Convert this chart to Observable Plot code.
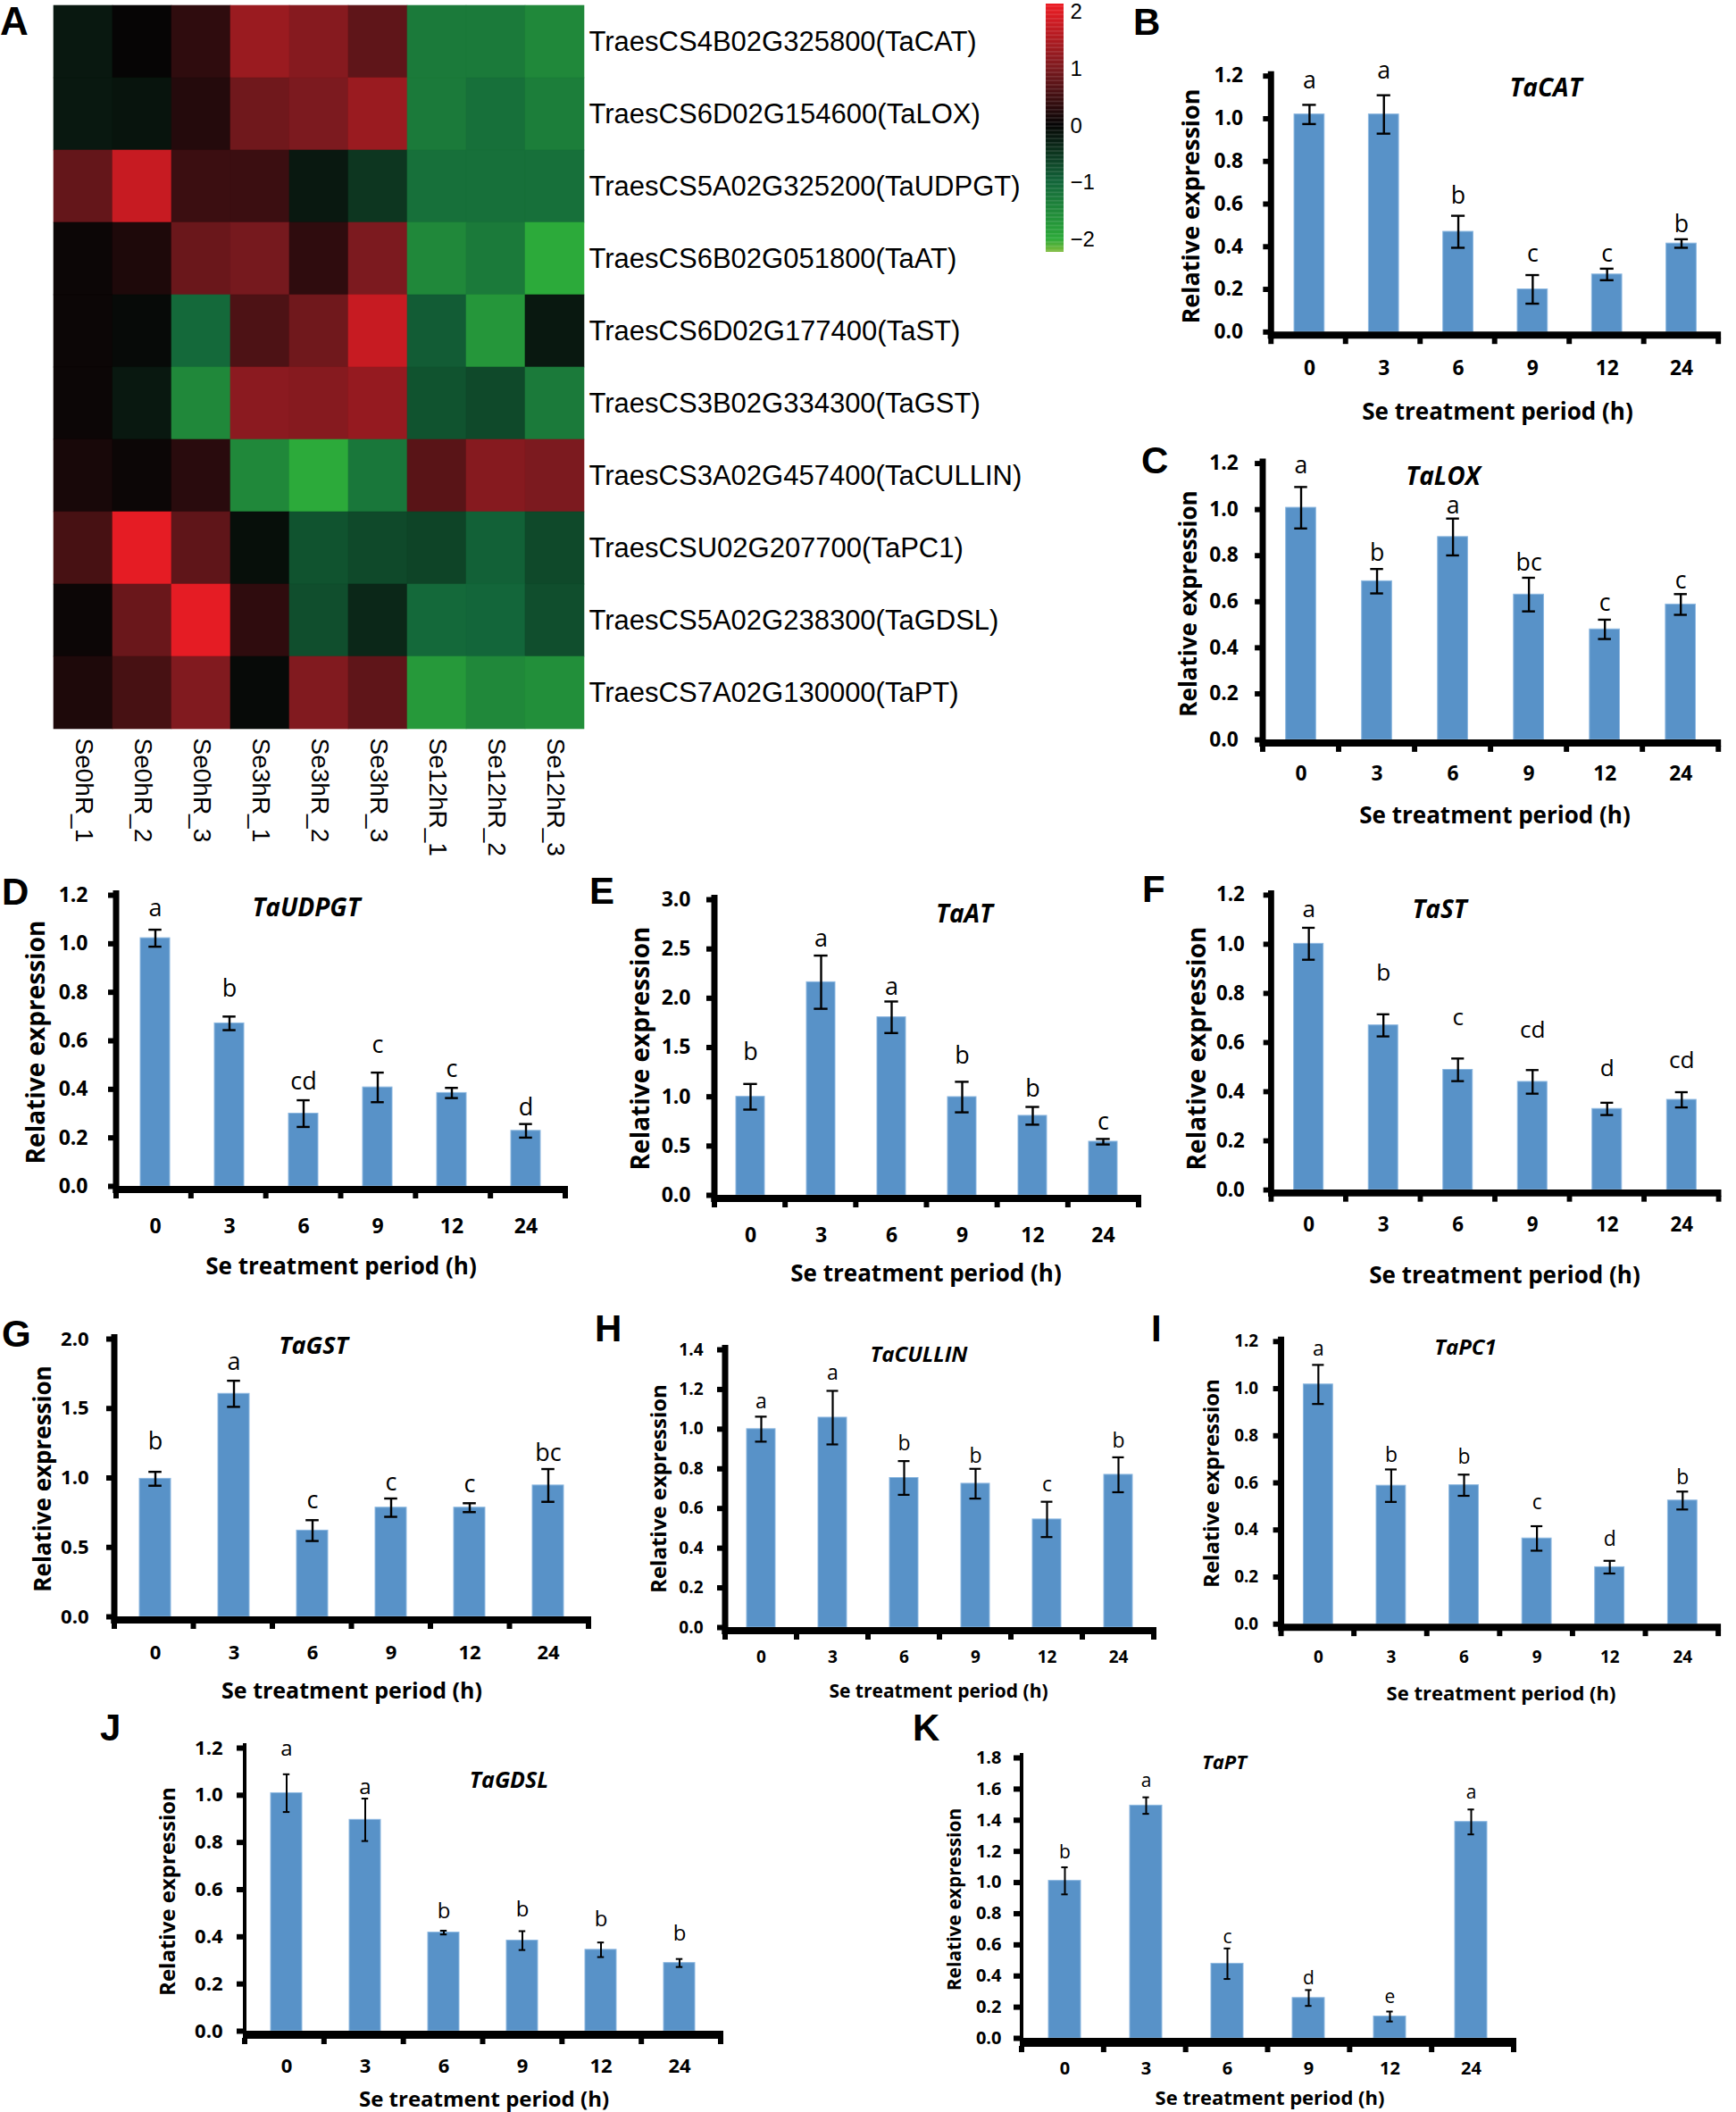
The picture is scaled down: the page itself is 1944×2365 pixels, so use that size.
<!DOCTYPE html>
<html><head><meta charset="utf-8">
<script src="https://cdn.jsdelivr.net/npm/d3@7"></script>
<script src="https://cdn.jsdelivr.net/npm/@observablehq/plot@0.6"></script>
<style>
html,body{margin:0;padding:0;background:#fff;}
#page{position:relative;width:1944px;height:2365px;overflow:hidden;background:#fff;}
</style></head>
<body><div id="page"></div>
<script>
// ---------------- DATA ----------------
const samples = ["Se0hR_1","Se0hR_2","Se0hR_3","Se3hR_1","Se3hR_2","Se3hR_3","Se12hR_1","Se12hR_2","Se12hR_3"];
const genes = ["TraesCS4B02G325800(TaCAT)","TraesCS6D02G154600(TaLOX)","TraesCS5A02G325200(TaUDPGT)",
  "TraesCS6B02G051800(TaAT)","TraesCS6D02G177400(TaST)","TraesCS3B02G334300(TaGST)",
  "TraesCS3A02G457400(TaCULLIN)","TraesCSU02G207700(TaPC1)","TraesCS5A02G238300(TaGDSL)","TraesCS7A02G130000(TaPT)"];
const hCAT    = [-0.2, 0.0, 0.35, 1.3, 1.1, 0.75, -1.3, -1.3, -1.5];
const hLOX    = [-0.2, -0.15, 0.25, 0.9, 1.0, 1.3, -1.3, -1.15, -1.35];
const hUDPGT  = [0.8, 1.75, 0.45, 0.45, -0.2, -0.5, -1.15, -1.15, -1.15];
const hAT     = [0.05, 0.2, 0.85, 0.95, 0.35, 1.0, -1.5, -1.3, -2.0];
const hST     = [0.05, -0.05, -1.05, 0.6, 0.9, 1.75, -0.9, -1.7, -0.2];
const hGST    = [0.05, -0.2, -1.5, 1.15, 1.1, 1.25, -0.8, -0.7, -1.3];
const hCULLIN = [0.15, 0.05, 0.3, -1.5, -2.0, -1.25, 0.7, 1.1, 1.0];
const hPC1    = [0.55, 2.05, 0.75, -0.1, -0.8, -0.7, -0.65, -0.95, -0.7];
const hGDSL   = [0.05, 0.85, 2.05, 0.35, -0.75, -0.35, -1.05, -1.0, -0.75];
const hPT     = [0.2, 0.55, 1.05, -0.05, 1.05, 0.75, -1.75, -1.5, -1.6];
const legendTicks = [-2, -1, 0, 1, 2];

const times = ["0","3","6","9","12","24"];
const catMean = [1.02, 1.02, 0.47, 0.20, 0.27, 0.415];
const catErr  = [0.045, 0.09, 0.075, 0.067, 0.027, 0.02];
const catSig  = ["a","a","b","c","c","b"];
const loxMean = [1.008, 0.689, 0.881, 0.631, 0.48, 0.588];
const loxErr  = [0.09, 0.053, 0.08, 0.073, 0.042, 0.045];
const loxSig  = ["a","b","a","bc","c","c"];
const udpMean = [1.023, 0.672, 0.30, 0.408, 0.385, 0.229];
const udpErr  = [0.035, 0.028, 0.055, 0.061, 0.021, 0.028];
const udpSig  = ["a","b","cd","c","c","d"];
const atMean  = [1.0, 2.163, 1.807, 0.997, 0.807, 0.544];
const atErr   = [0.13, 0.27, 0.16, 0.155, 0.09, 0.028];
const atSig   = ["b","a","a","b","b","c"];
const stMean  = [1.002, 0.67, 0.489, 0.44, 0.33, 0.367];
const stErr   = [0.065, 0.045, 0.046, 0.048, 0.025, 0.031];
const stSig   = ["a","b","c","cd","d","cd"];
const gstMean = [0.994, 1.606, 0.621, 0.786, 0.786, 0.946];
const gstErr  = [0.05, 0.094, 0.075, 0.066, 0.032, 0.118];
const gstSig  = ["b","a","c","c","c","bc"];
const culMean = [1.0, 1.058, 0.754, 0.725, 0.545, 0.77];
const culErr  = [0.063, 0.135, 0.085, 0.075, 0.089, 0.088];
const culSig  = ["a","a","b","b","c","b"];
const pc1Mean = [1.018, 0.588, 0.59, 0.364, 0.242, 0.525];
const pc1Err  = [0.083, 0.069, 0.045, 0.052, 0.027, 0.038];
const pc1Sig  = ["a","b","b","c","d","b"];
const gdslMean= [1.009, 0.896, 0.418, 0.384, 0.345, 0.289];
const gdslErr = [0.08, 0.09, 0.008, 0.04, 0.031, 0.017];
const gdslSig = ["a","a","b","b","b","b"];
const ptMean  = [1.011, 1.494, 0.479, 0.259, 0.14, 1.389];
const ptErr   = [0.087, 0.053, 0.098, 0.051, 0.032, 0.08];
const ptSig   = ["b","a","c","d","e","a"];

// ---------------- STYLE ----------------
const FONT = "'Open Sans', 'Liberation Sans', sans-serif";
const ARIAL = "'Liberation Sans', Arial, sans-serif";
const BAR = "#5892c8", BAR_EDGE = "#8db8e0";
const colorDomain = [-2.22, -2, -1, 0, 1, 2.14];
const colorRange = ["#79b93a", "#2caa3a", "#13663a", "#060505", "#7c1a1f", "#ee1c24"];
const minus = d => d < 0 ? "\u2212" + Math.abs(d) : String(d);

const page = document.getElementById("page");
function addNode(node, left, top) {
  const d = document.createElement("div");
  d.style.cssText = `position:absolute;left:${left}px;top:${top}px;`;
  d.appendChild(node); page.appendChild(d); return d;
}
function addText(s, x, y, size, o = {}) {
  const d = document.createElement("div");
  const tf = o.rotate ? `translate(-50%,-50%) rotate(${o.rotate}deg)` : (o.left ? "translate(0,-50%)" : "translate(-50%,-50%)");
  d.textContent = s;
  d.style.cssText = `position:absolute;left:${x}px;top:${y}px;transform:${tf};font-family:${o.family || FONT};font-size:${size}px;font-weight:${o.weight || "bold"};font-style:${o.italic ? "italic" : "normal"};line-height:1;white-space:nowrap;color:#000;`;
  page.appendChild(d);
}

// ---------------- HEATMAP ----------------
const heatRows = [hCAT, hLOX, hUDPGT, hAT, hST, hGST, hCULLIN, hPC1, hGDSL, hPT];
const heatData = genes.flatMap((g, i) => samples.map((s, j) => ({gene: g, sample: s, z: heatRows[i][j]})));
const heat = Plot.plot({
  width: 1176, height: 3 + 815 + 130,
  marginLeft: 58, marginRight: 520, marginTop: 3, marginBottom: 130,
  x: {domain: samples, padding: 0},
  y: {domain: genes, padding: 0},
  color: {type: "linear", domain: colorDomain, range: colorRange, interpolate: "rgb"},
  style: {background: "none", fontFamily: ARIAL, color: "black", overflow: "visible"},
  marks: [
    Plot.cell(heatData, {x: "sample", y: "gene", fill: "z", stroke: "z", strokeWidth: 0.6, inset: 0}),
    Plot.axisY({anchor: "right", tickSize: 0, tickPadding: 3, fontSize: 31, label: null}),
    Plot.axisX({anchor: "bottom", tickSize: 0, tickPadding: 8, tickRotate: 90, fontSize: 28, label: null})
  ]
});
addNode(heat, 0, 0);

// legend
const stops = d3.range(-2.22, 2.14, 0.02);
const legend = Plot.plot({
  width: 70, height: 288, marginLeft: 0, marginRight: 50, marginTop: 10, marginBottom: 0,
  y: {domain: [-2.22, 2.14]},
  color: {type: "linear", domain: colorDomain, range: colorRange, interpolate: "rgb"},
  style: {background: "none", fontFamily: ARIAL, color: "black", overflow: "visible"},
  marks: [
    Plot.rect(stops, {y1: d => d, y2: d => Math.min(d + 0.025, 2.14), fill: d => d}),
    Plot.axisY({anchor: "right", ticks: legendTicks, tickFormat: minus, tickSize: 0, tickPadding: 7, fontSize: 24, label: null})
  ]
});
addNode(legend, 1171, -6);
addText("A", 0, 24, 44, {family: ARIAL, left: true});

// ---------------- BAR PANELS ----------------
// gaps: distance (px) from error-bar top to the centre of each significance letter
const panels = [
  {L:"B", gene:"TaCAT", mean:catMean, err:catErr, sig:catSig, ymax:1.2, step:0.2,
   left:1424, right:1929, y0:374, yTop:85, tickFs:23, tickOff:41, ylg:32, sigFs:27, gaps:[27,27,22,24,17,17], capW:15, ew:2.4, yw:7, xw:8,
   xt:[1677,460,26], yt:[1332,231,27], gt:[1731,97,28], let:[1269,25]},
  {L:"C", gene:"TaLOX", mean:loxMean, err:loxErr, sig:loxSig, ymax:1.2, step:0.2,
   left:1415, right:1931, y0:832, yTop:519, tickFs:23, tickOff:38, ylg:28, sigFs:27, gaps:[24,18,14,17,19,15], capW:15, ew:2.4, yw:7, xw:8,
   xt:[1674,912,26], yt:[1330,676,26], gt:[1616,532,28], let:[1278,516]},
  {L:"D", gene:"TaUDPGT", mean:udpMean, err:udpErr, sig:udpSig, ymax:1.2, step:0.2,
   left:130, right:633, y0:1328, yTop:1002, tickFs:23, tickOff:44, ylg:32, sigFs:27, gaps:[24,31,21,31,21,18], capW:15, ew:2.4, yw:7, xw:8,
   xt:[382,1417,26], yt:[39,1167,28], gt:[343,1015,28], let:[2,999]},
  {L:"E", gene:"TaAT", mean:atMean, err:atErr, sig:atSig, ymax:3.0, step:0.5,
   left:800, right:1275, y0:1338, yTop:1007, tickFs:23, tickOff:44, ylg:27, sigFs:27, gaps:[35,19,16,29,20,19], capW:15, ew:2.4, yw:7, xw:8,
   xt:[1037,1425,26], yt:[716,1174,28], gt:[1080,1022,28], let:[660,998]},
  {L:"F", gene:"TaST", mean:stMean, err:stErr, sig:stSig, ymax:1.2, step:0.2,
   left:1426, right:1942, y0:1343, yTop:1003, tickFs:23, tickOff:40, ylg:31, sigFs:27, gaps:[21,48,47,46,39,37], capW:15, ew:2.4, yw:7, xw:8,
   xt:[1685,1427,26], yt:[1339,1174,28], gt:[1612,1017,28], let:[1279,996]},
  {L:"G", gene:"TaGST", mean:gstMean, err:gstErr, sig:gstSig, ymax:2.0, step:0.5,
   left:128, right:659, y0:1810, yTop:1499, tickFs:22, tickOff:40, ylg:29, sigFs:27, gaps:[34,21,22,18,21,18], capW:15, ew:2.4, yw:7, xw:8,
   xt:[394,1892,25], yt:[47,1656,26], gt:[351,1505,27], let:[2,1494]},
  {L:"H", gene:"TaCULLIN", mean:culMean, err:culErr, sig:culSig, ymax:1.4, step:0.2,
   left:812, right:1292, y0:1822, yTop:1511, tickFs:19, tickOff:33, ylg:25, sigFs:23, gaps:[17,20,19,14,19,18], capW:13, ew:2.2, yw:7, xw:8,
   xt:[1051,1893,21], yt:[737,1667,24], gt:[1029,1516,24], let:[666,1488]},
  {L:"I", gene:"TaPC1", mean:pc1Mean, err:pc1Err, sig:pc1Sig, ymax:1.2, step:0.2,
   left:1435, right:1927, y0:1820, yTop:1502, tickFs:19, tickOff:37, ylg:26, sigFs:23, gaps:[18,16,20,26,24,16], capW:13, ew:2.2, yw:7, xw:8,
   xt:[1681,1895,22], yt:[1356,1661,24], gt:[1641,1508,24], let:[1289,1488]},
  {L:"J", gene:"TaGDSL", mean:gdslMean, err:gdslErr, sig:gdslSig, ymax:1.2, step:0.2,
   left:274, right:807, y0:2274, yTop:1957, tickFs:22, tickOff:39, ylg:25, sigFs:24, gaps:[29,13,22,24,26,28], capW:8, ew:2, yw:4, xw:9,
   xt:[542,2350,24], yt:[187,2118,24], gt:[570,1992,25], let:[112,1935]},
  {L:"K", gene:"TaPT", mean:ptMean, err:ptErr, sig:ptSig, ymax:1.8, step:0.2,
   left:1144, right:1695, y0:2282, yTop:1968, tickFs:20, tickOff:33, ylg:23, sigFs:21, gaps:[17,18,13,13,16,19], capW:8, ew:2, yw:4, xw:10,
   xt:[1422,2348,22], yt:[1068,2127,21], gt:[1371,1972,22], let:[1022,1935]}
];

function barPanel(p) {
  const ml = 90, mr = 20, mt = 40, mb = 80, pad = 0.6;
  const W = p.right - p.left + ml + mr, H = p.y0 - p.yTop + mt + mb;
  const rows = times.map((t, i) => ({t, m: p.mean[i], e: p.err[i], s: p.sig[i], gap: p.gaps[i]}));
  const ticks = d3.range(0, p.ymax + 1e-9, p.step);
  const bw = (p.right - p.left) / times.length * (1 - pad);
  const inset = Math.max(0, (bw - p.capW) / 2);
  const chart = Plot.plot({
    width: W, height: H, marginLeft: ml, marginRight: mr, marginTop: mt, marginBottom: mb,
    x: {type: "band", domain: times, paddingInner: pad, paddingOuter: pad / 2, align: 0.5},
    y: {type: "linear", domain: [0, p.ymax]},
    style: {background: "none", fontFamily: FONT, fontWeight: "bold", color: "black", overflow: "visible"},
    marks: [
      Plot.barY(rows, {x: "t", y: "m", fill: BAR, stroke: BAR_EDGE, strokeWidth: 1}),
      Plot.ruleX(rows, {x: "t", y1: d => d.m - d.e, y2: d => d.m + d.e, stroke: "black", strokeWidth: p.ew}),
      Plot.tickY(rows, {x: "t", y: d => d.m + d.e, insetLeft: inset, insetRight: inset, stroke: "black", strokeWidth: p.ew}),
      Plot.tickY(rows, {x: "t", y: d => d.m - d.e, insetLeft: inset, insetRight: inset, stroke: "black", strokeWidth: p.ew}),
      ...rows.map(r => Plot.text([r], {x: "t", y: d => d.m + d.e, text: "s", dy: -r.gap, lineAnchor: "middle", fontSize: p.sigFs, fontWeight: "normal", fill: "black"})),
      Plot.axisY({ticks, tickFormat: d => d.toFixed(1), tickSize: 9, tickPadding: p.ylg - 9, stroke: "black", strokeWidth: 6, fontSize: p.tickFs, label: null}),
      Plot.axisX({tickSize: 0, tickPadding: p.tickOff - 0.36 * p.tickFs, fontSize: p.tickFs, label: null})
    ]
  });
  // Excel-style axis lines and category boundary ticks, placed from the plot's own scales
  const xs = chart.scale("x"), ys = chart.scale("y");
  const [xa, xb] = xs.range, [ya, yb] = ys.range;
  const n = xs.domain.length, stp = (xb - xa) / n;
  const g = d3.select(chart).append("g").attr("stroke", "black");
  g.append("line").attr("x1", xa).attr("x2", xa).attr("y1", yb - 5).attr("y2", ya + p.xw).attr("stroke-width", p.yw);
  g.append("line").attr("x1", xa - p.yw / 2).attr("x2", xb + 3).attr("y1", ya + p.xw / 2).attr("y2", ya + p.xw / 2).attr("stroke-width", p.xw);
  for (let k = 0; k <= n; k++) {
    g.append("line").attr("x1", xa + k * stp).attr("x2", xa + k * stp).attr("y1", ya + p.xw - 1).attr("y2", ya + p.xw + 6).attr("stroke-width", 6);
  }
  addNode(chart, p.left - ml, p.yTop - mt);
  addText("Se treatment period (h)", p.xt[0], p.xt[1], p.xt[2]);
  addText("Relative expression", p.yt[0], p.yt[1], p.yt[2], {rotate: -90});
  addText(p.gene, p.gt[0], p.gt[1], p.gt[2], {italic: true});
  addText(p.L, p.let[0], p.let[1], 42, {family: ARIAL, left: true});
}
panels.forEach(barPanel);
</script>
</body></html>
